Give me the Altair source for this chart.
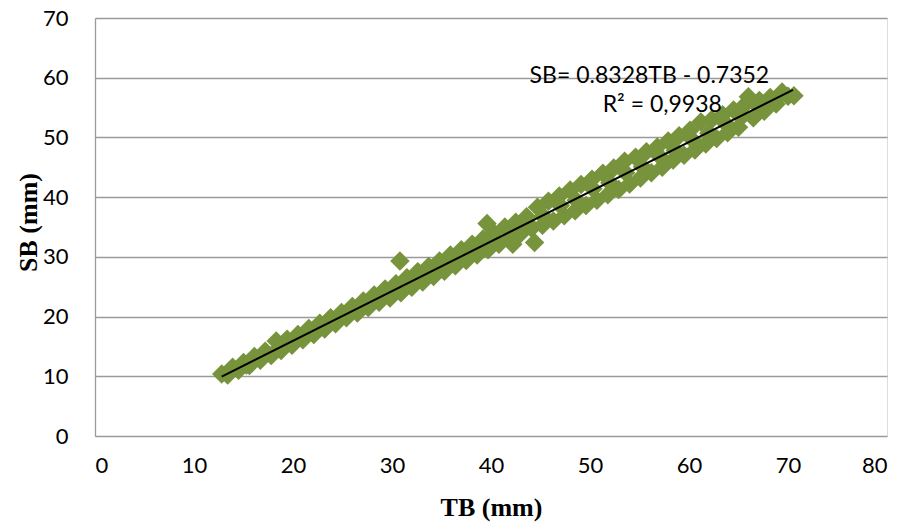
import altair as alt
import pandas as pd

tb_outer = [12.8, 13.4, 13.9, 14.5, 15.0, 15.6, 16.1, 16.7, 17.2, 17.8, 18.3, 18.8, 19.4,
            19.9, 20.5, 21.0, 21.6, 22.1, 22.7, 23.2, 23.8, 24.3, 24.9, 25.4, 26.0, 26.5,
            27.1, 27.6, 28.2, 28.7, 29.3, 29.8, 30.4, 30.8, 30.9, 31.5, 32.0, 32.6, 33.1,
            33.7, 34.2, 34.8, 35.3, 35.9, 36.4, 37.0, 37.5, 38.1, 38.6, 39.2, 39.6, 39.7,
            40.3, 40.8, 41.4, 41.9, 42.2, 42.5, 43.0, 43.6, 44.1, 44.4, 44.7, 45.2, 45.8,
            46.3, 46.9, 47.4, 48.0, 48.5, 49.1, 49.6, 50.2, 50.7, 51.3, 51.8, 52.4, 52.9,
            53.5, 54.0, 54.6, 55.1, 55.7, 56.2, 56.8, 57.3, 57.9, 58.4, 59.0, 59.5, 60.1,
            60.6, 61.2, 61.7, 62.3, 62.8, 63.4, 63.9, 64.5, 65.0, 65.6, 66.0, 66.5, 67.1,
            67.6, 68.2, 68.8, 69.4, 70.0, 70.6]
sb_outer = [10.4, 10.2, 11.5, 11.0, 12.3, 11.8, 13.3, 12.7, 14.2, 13.5, 15.9, 14.3, 16.2,
            15.2, 17.0, 16.1, 18.0, 17.0, 18.9, 17.9, 19.8, 18.8, 20.7, 19.8, 21.7, 20.6,
            22.6, 21.5, 23.6, 22.4, 24.6, 23.1, 25.5, 29.3, 24.0, 26.5, 24.9, 27.5, 25.8,
            28.4, 26.7, 29.3, 27.6, 30.3, 28.5, 31.2, 29.4, 32.1, 30.3, 33.0, 35.6, 31.2,
            34.0, 32.1, 35.0, 33.0, 32.1, 35.8, 33.9, 36.7, 34.8, 32.4, 38.3, 35.3, 39.3,
            36.0, 40.2, 36.9, 41.2, 37.7, 42.1, 38.6, 43.0, 39.5, 44.0, 40.4, 44.9, 41.3,
            46.0, 42.2, 46.7, 43.2, 47.6, 44.1, 48.4, 45.0, 49.4, 46.2, 50.3, 47.0, 51.2,
            47.9, 52.6, 48.9, 53.0, 49.8, 53.8, 50.8, 54.6, 51.7, 55.4, 56.8, 53.3, 56.2,
            54.4, 56.7, 55.6, 57.6, 56.9, 57.0]

# Points in the middle of the band
tb_inner = [13.6, 15.3, 17.0, 18.6, 20.3, 22.0, 23.6, 25.3, 27.0, 28.6, 30.3, 32.0, 33.6,
            35.3, 37.0, 38.6, 40.3, 42.0, 43.6, 45.3, 47.0, 48.6, 50.3, 52.0, 53.6, 55.3,
            57.0, 58.6, 60.3, 62.0, 63.6, 65.3, 67.0, 68.6]
sb_inner = [10.7, 11.9, 13.6, 14.6, 16.3, 17.4, 19.1, 20.2, 21.9, 22.9, 24.7, 25.8, 27.4,
            28.5, 30.3, 31.2, 33.0, 34.1, 35.8, 36.8, 38.6, 39.5, 41.4, 42.4, 44.1, 45.1,
            46.9, 47.8, 49.7, 50.7, 52.5, 53.4, 55.2, 56.1]

# Trend line end points
trend_tb = [12.8, 70.5]
trend_sb = [9.93, 57.98]

# Annotations
eq_text = ["SB= 0.8328TB - 0.7352", "R² = 0,9938"]
eq_tb = [56.0, 57.3]
eq_sb = [60.3, 55.4]

pts = pd.DataFrame({"TB": tb_outer + tb_inner, "SB": sb_outer + sb_inner})
trend = pd.DataFrame({"TB": trend_tb, "SB": trend_sb})
ann = pd.DataFrame({"TB": eq_tb, "SB": eq_sb, "t": eq_text})

xs = alt.Scale(domain=[0, 80], nice=False, zero=False)
ys = alt.Scale(domain=[0, 70], nice=False, zero=False)

x_axis = alt.Axis(values=list(range(0, 81, 10)), grid=False, domain=False, ticks=False,
                  labelFont="Lato", labelFontSize=22, labelColor="#000000", labelPadding=19,
                  title="TB (mm)", titleFont="Liberation Serif", titleFontSize=26,
                  titleFontWeight="bold", titleColor="#000000",
                  titleX=396, titleY=71, titleAlign="center", titleBaseline="middle")
y_axis = alt.Axis(values=list(range(0, 71, 10)), grid=True, gridColor="#9a9a9a",
                  gridWidth=1.3, domain=True, domainColor="#9a9a9a", domainWidth=1.3,
                  ticks=False, labelFont="Lato", labelFontSize=22, labelColor="#000000",
                  labelPadding=27,
                  title="SB (mm)", titleFont="Liberation Serif", titleFontSize=26,
                  titleFontWeight="bold", titleColor="#000000", titleAngle=-90,
                  titleX=-67, titleY=204, titleAlign="center", titleBaseline="middle")

scatter = alt.Chart(pts).mark_point(shape="diamond", filled=True, size=380,
                                    color="#77933C", opacity=1).encode(
    x=alt.X("TB:Q", scale=xs, axis=x_axis),
    y=alt.Y("SB:Q", scale=ys, axis=y_axis),
)

line = alt.Chart(trend).mark_line(color="#000000", strokeWidth=2).encode(
    x=alt.X("TB:Q", scale=xs),
    y=alt.Y("SB:Q", scale=ys),
)

text = alt.Chart(ann).mark_text(font="Lato", fontSize=23, color="#000000",
                                align="center", baseline="middle").encode(
    x=alt.X("TB:Q", scale=xs),
    y=alt.Y("SB:Q", scale=ys),
    text="t:N",
)

chart = alt.layer(scatter, line, text).properties(
    width=792, height=418,
    autosize=alt.AutoSizeParams(type="none"),
    padding={"left": 87, "top": 10, "right": 8, "bottom": 86},
).configure_view(stroke=None).configure(background="#ffffff")

chart.save("out.html", embed_options={"renderer": "svg", "actions": False})
